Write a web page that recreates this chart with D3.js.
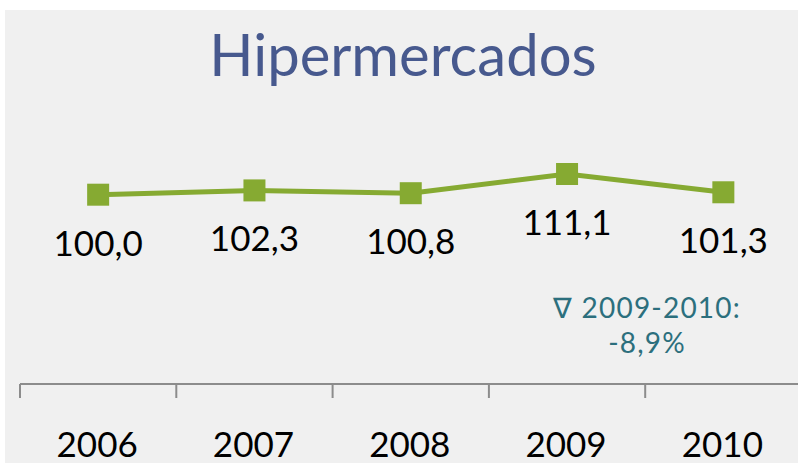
<!doctype html>
<html lang="pt">
<head>
<meta charset="utf-8">
<title>Hipermercados</title>
<style>
  html, body { margin: 0; padding: 0; background: #fff; }
  svg { display: block; }
  text { font-family: 'Lato', 'Open Sans', sans-serif; }
</style>
</head>
<body>
<svg width="798" height="465"></svg>
<script src="https://d3js.org/d3.v7.min.js"></script>
<script>
// data
var years = ["2006", "2007", "2008", "2009", "2010"];
var values = [100.0, 102.3, 100.8, 111.1, 101.3];
var valueLabels = ["100,0", "102,3", "100,8", "111,1", "101,3"];
var title = "Hipermercados";
var noteLines = ["\u2207 2009-2010:", "-8,9%"];

var svg = d3.select("svg");

// grey panel
svg.append("rect")
    .attr("x", 5).attr("y", 10)
    .attr("width", 793).attr("height", 453)
    .attr("fill", "#f0f0f0");

// x scale: bands, ticks between categories
var x = d3.scaleBand()
    .domain(years)
    .range([20, 801.5]);

// y scale
var y = d3.scaleLinear()
    .domain([100, 111.1])
    .range([194.7, 174]);

// title
svg.append("text")
    .attr("x", 403)
    .attr("y", 76)
    .attr("text-anchor", "middle")
    .attr("font-size", 58)
    .attr("fill", "#47598e")
    .text(title);

// axis
var axisY = 384;
svg.append("line")
    .attr("x1", 20).attr("x2", 798)
    .attr("y1", axisY).attr("y2", axisY)
    .attr("stroke", "#8c8c8c").attr("stroke-width", 2);

svg.selectAll(".tick")
    .data(years)
    .enter().append("line")
    .attr("class", "tick")
    .attr("x1", function(d) { return x(d); })
    .attr("x2", function(d) { return x(d); })
    .attr("y1", axisY).attr("y2", axisY + 14)
    .attr("stroke", "#8c8c8c").attr("stroke-width", 2);

svg.selectAll(".year")
    .data(years)
    .enter().append("text")
    .attr("class", "year")
    .attr("x", function(d) { return x(d) + x.bandwidth() / 2 - 1; })
    .attr("y", 457)
    .attr("text-anchor", "middle")
    .attr("font-size", 35)
    .attr("fill", "#000")
    .text(function(d) { return d; });

// line
var line = d3.line()
    .x(function(d, i) { return x(years[i]) + x.bandwidth() / 2; })
    .y(function(d) { return y(d); });

svg.append("path")
    .datum(values)
    .attr("d", line)
    .attr("fill", "none")
    .attr("stroke", "#86aa32")
    .attr("stroke-width", 5);

// markers
svg.selectAll(".marker")
    .data(values)
    .enter().append("rect")
    .attr("class", "marker")
    .attr("x", function(d, i) { return x(years[i]) + x.bandwidth() / 2 - 11; })
    .attr("y", function(d) { return y(d) - 11; })
    .attr("width", 22).attr("height", 22)
    .attr("fill", "#86aa32");

// value labels
svg.selectAll(".val")
    .data(values)
    .enter().append("text")
    .attr("class", "val")
    .attr("x", function(d, i) { return x(years[i]) + x.bandwidth() / 2; })
    .attr("y", function(d) { return y(d) + 61; })
    .attr("text-anchor", "middle")
    .attr("font-size", 35)
    .attr("fill", "#000")
    .text(function(d, i) { return valueLabels[i]; });

// note
svg.selectAll(".note")
    .data(noteLines)
    .enter().append("text")
    .attr("class", "note")
    .attr("x", 647)
    .attr("y", function(d, i) { return 318 + i * 35; })
    .attr("text-anchor", "middle")
    .attr("font-size", 28)
    .attr("letter-spacing", 1.2)
    .attr("fill", "#2c6f7d")
    .text(function(d) { return d; });
</script>
</body>
</html>
